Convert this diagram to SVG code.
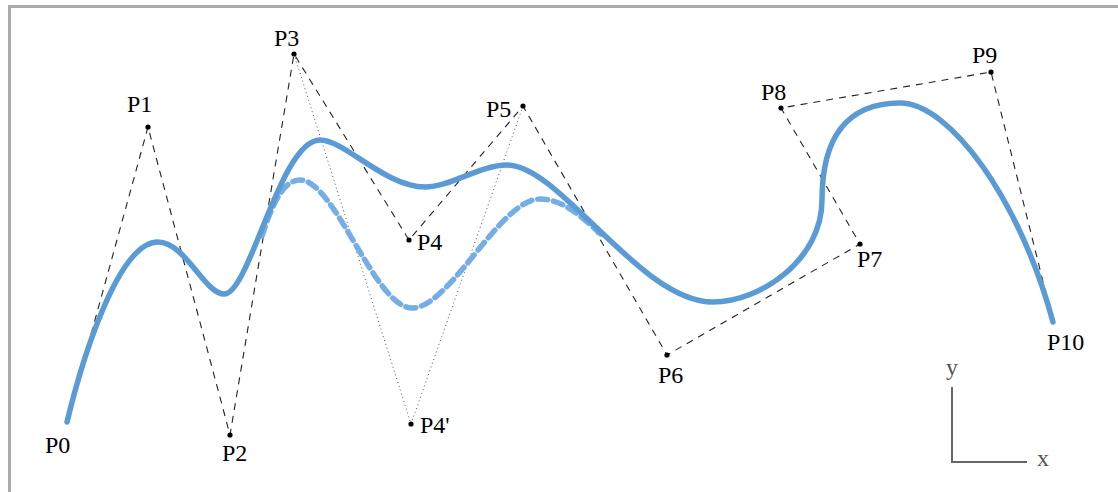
<svg xmlns="http://www.w3.org/2000/svg" width="1118" height="492" viewBox="0 0 1118 492">
<style>
.lbl{font-family:"Liberation Serif","Times New Roman",serif;font-size:24px;fill:#000}
.ax{font-family:"Liberation Serif","Times New Roman",serif;font-size:24px;fill:#555}
.pt{fill:#000}
.poly{fill:none;stroke:#222;stroke-width:1.1;stroke-dasharray:7 6}
.dot{fill:none;stroke:#555;stroke-width:1;stroke-dasharray:1 3}
.curve{fill:none;stroke:#5b9bd5;stroke-width:5.5;stroke-linecap:round}
.curve2{fill:none;stroke:#74aee4;stroke-width:5.5;stroke-dasharray:10 6;stroke-linecap:round}
</style>
<rect width="1118" height="492" fill="#fff"/>
<g id="frame" stroke="#aaa" stroke-width="3" fill="none">
<line x1="8" y1="6.5" x2="1118" y2="6.5"/>
<line x1="9.5" y1="5" x2="9.5" y2="492"/>
</g>
<g id="connectors">
<polyline class="poly" points="67,422 148,127 230,435 294,54 409,240 523,106 667,355 860,244 781,108 991,72 1053,322"/>
<polyline class="dot" points="294,54 411,424 523,106"/>
</g>
<g id="curves">
<path class="curve2" d="M262,236 C272,205 283,180 300,180 C335,180 375,308 412,308 C450,308 500,199 540,199 C565,199 585,220 605,238"/>
<path class="curve" d="M67,422 C82,360 118,242 158,242 C185,242 205,294 224,294 C250,294 280,140 320,140 C345,140 385,187 425,187 C450,187 480,165 507,165 C560,165 640,302 713,302 C760,302 822,260 822,200 C822,140 845,103 900,103 C950,103 1020,200 1053,322"/>
</g>
<g id="P0"><text class="lbl" x="45" y="453">P0</text></g>
<g id="P1"><circle class="pt" cx="148" cy="127" r="2.6"/><text class="lbl" x="127" y="112">P1</text></g>
<g id="P2"><circle class="pt" cx="230" cy="435" r="2.6"/><text class="lbl" x="222" y="461">P2</text></g>
<g id="P3"><circle class="pt" cx="294" cy="54" r="2.6"/><text class="lbl" x="274" y="46">P3</text></g>
<g id="P4"><circle class="pt" cx="409" cy="240" r="2.6"/><text class="lbl" x="417" y="250">P4</text></g>
<g id="P4p"><circle class="pt" cx="411" cy="424" r="2.6"/><text class="lbl" x="420" y="433">P4'</text></g>
<g id="P5"><circle class="pt" cx="523" cy="106" r="2.6"/><text class="lbl" x="486" y="117">P5</text></g>
<g id="P6"><circle class="pt" cx="667" cy="355" r="2.6"/><text class="lbl" x="658" y="383">P6</text></g>
<g id="P7"><circle class="pt" cx="860" cy="244" r="2.6"/><text class="lbl" x="857" y="267">P7</text></g>
<g id="P8"><circle class="pt" cx="781" cy="108" r="2.6"/><text class="lbl" x="761" y="100">P8</text></g>
<g id="P9"><circle class="pt" cx="991" cy="72" r="2.6"/><text class="lbl" x="972" y="63">P9</text></g>
<g id="P10"><text class="lbl" x="1047" y="350">P10</text></g>
<g id="axes">
<polyline points="952,387 952,462 1027,462" fill="none" stroke="#666" stroke-width="2"/>
<text class="ax" x="946" y="375">y</text>
<text class="ax" x="1037" y="466">x</text>
</g>
</svg>
